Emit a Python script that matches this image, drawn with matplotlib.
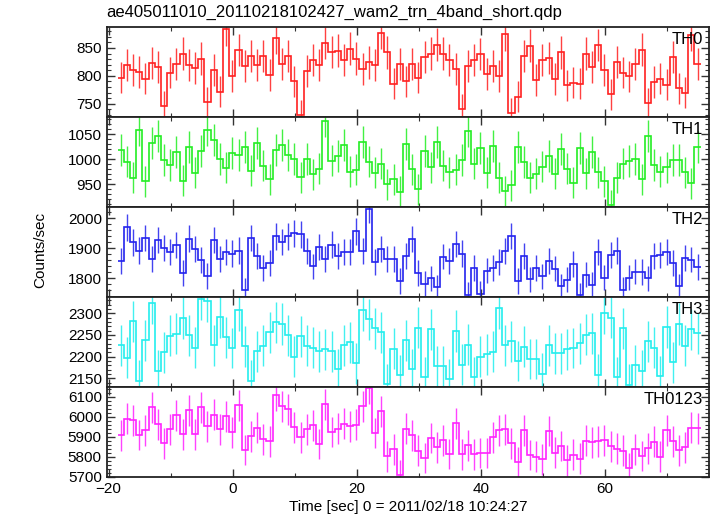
import numpy as np
import matplotlib
matplotlib.use("Agg")
import matplotlib.pyplot as plt
from matplotlib.ticker import MultipleLocator

plt.rcParams['font.family'] = ['Liberation Sans', 'DejaVu Sans']

# ---- data (1-s bins, count rates in counts/sec) ----
t_start = -18.55
bin_width = 1.0

th0 = [797, 820, 811, 807, 795, 823, 816, 746, 806, 822,
       840, 820, 814, 831, 753, 811, 772, 883, 800, 846,
       817, 836, 820, 836, 802, 868, 822, 836, 790, 730,
       809, 828, 819, 859, 843, 845, 829, 849, 831, 813,
       824, 820, 877, 842, 786, 821, 790, 822, 797, 834,
       840, 856, 840, 828, 813, 740, 818, 829, 839, 803,
       817, 800, 875, 734, 763, 835, 854, 793, 829, 832,
       794, 842, 783, 788, 786, 840, 816, 855, 810, 767,
       825, 806, 799, 822, 847, 751, 789, 795, 784, 834,
       778, 770, 874, 822]

th1 = [1018, 995, 963, 1059, 956, 1033, 1047, 998, 988, 1014,
       957, 1025, 973, 1017, 1059, 1039, 1001, 983, 1013, 1008,
       1025, 977, 1033, 987, 960, 1019, 1029, 1008, 1001, 964,
       1001, 970, 981, 1077, 997, 1006, 1029, 975, 979, 1035,
       995, 973, 991, 950, 960, 935, 1031, 980, 940, 1016,
       984, 1035, 987, 974, 979, 999, 1056, 991, 1023, 973,
       1027, 963, 936, 948, 1024, 994, 963, 971, 985, 1007,
       971, 1021, 981, 953, 1022, 972, 1015, 974, 956, 908,
       963, 991, 996, 1001, 960, 1047, 988, 975, 984, 999,
       999, 974, 952, 1024]

th2 = [1857, 1970, 1920, 1893, 1934, 1864, 1927, 1902, 1887, 1912,
       1818, 1933, 1897, 1860, 1808, 1928, 1864, 1889, 1883, 1893,
       1761, 1935, 1876, 1834, 1851, 1940, 1921, 1940, 1950, 1947,
       1892, 1840, 1905, 1864, 1913, 1874, 1888, 1887, 1957, 1891,
       2031, 1854, 1897, 1866, 1866, 1791, 1874, 1931, 1818, 1781,
       1800, 1770, 1873, 1857, 1914, 1883, 1746, 1834, 1749, 1826,
       1834, 1854, 1891, 1941, 1791, 1874, 1797, 1834, 1807, 1859,
       1833, 1774, 1796, 1848, 1744, 1813, 1778, 1888, 1803, 1877,
       1893, 1763, 1803, 1823, 1821, 1800, 1874, 1877, 1889, 1852,
       1774, 1867, 1863, 1838]

th3 = [2226, 2198, 2281, 2145, 2238, 2323, 2168, 2210, 2248, 2253,
       2289, 2249, 2221, 2333, 2328, 2226, 2292, 2245, 2220, 2308,
       2224, 2145, 2212, 2225, 2256, 2279, 2275, 2249, 2200, 2247,
       2225, 2221, 2213, 2217, 2213, 2171, 2226, 2233, 2185, 2308,
       2286, 2265, 2256, 2138, 2218, 2157, 2238, 2171, 2267, 2154,
       2263, 2178, 2178, 2148, 2259, 2182, 2228, 2154, 2200, 2206,
       2211, 2311, 2226, 2235, 2190, 2223, 2195, 2195, 2161, 2226,
       2208, 2208, 2217, 2220, 2231, 2251, 2254, 2159, 2300, 2290,
       2154, 2265, 2136, 2180, 2168, 2235, 2221, 2155, 2268, 2187,
       2275, 2225, 2263, 2254]

th0123 = [5906, 5989, 5981, 5907, 5931, 6046, 5962, 5866, 5936, 6006,
          5911, 6031, 5911, 6046, 5952, 6009, 5936, 6002, 5921, 6056,
          5832, 5901, 5944, 5886, 5876, 6106, 6052, 6036, 5947, 5896,
          5936, 5956, 5862, 6061, 5922, 5939, 5964, 5952, 5959, 6052,
          6141, 5917, 6026, 5801, 5836, 5709, 5939, 5906, 5829, 5792,
          5892, 5846, 5881, 5812, 5967, 5811, 5856, 5811, 5817, 5817,
          5896, 5932, 5936, 5866, 5774, 5931, 5807, 5799, 5786, 5927,
          5819, 5852, 5781, 5809, 5789, 5879, 5871, 5876, 5881, 5851,
          5839, 5829, 5741, 5836, 5802, 5841, 5874, 5799, 5931, 5876,
          5831, 5846, 5944, 5941]

names = ["TH0", "TH1", "TH2", "TH3", "TH0123"]
series = [th0, th1, th2, th3, th0123]
colors = ["#ff2020", "#22ee22", "#2222ee", "#22eeee", "#ff22ff"]
ylims = [(727, 888), (905, 1085), (1739, 2039), (2131, 2338), (5699, 6149)]
major = [50, 50, 100, 50, 100]
minor = [10, 10, 20, 10, 20]

W, H = 717, 516
fig = plt.figure(figsize=(W / 100, H / 100), dpi=100)

left_px, right_px = 106.7, 709
top_px = 26.7
ph = 90.0

axes = []
for i, (name, vals, col) in enumerate(zip(names, series, colors)):
    y0 = top_px + ph * (i + 1)
    ax = fig.add_axes([left_px / W, 1 - y0 / H, (right_px - left_px) / W, ph / H],
                      sharex=axes[0] if axes else None)
    axes.append(ax)
    v = np.asarray(vals, dtype=float)
    edges = t_start + bin_width * np.arange(len(v) + 1)
    centers = 0.5 * (edges[:-1] + edges[1:])
    err = np.sqrt(v * bin_width) / bin_width  # Poisson error of the rate
    ax.errorbar(centers, v, yerr=err, fmt='none', ecolor=col, elinewidth=1.0,
                alpha=0.85, capsize=0)
    ax.stairs(v, edges, color=col, linewidth=1.2, baseline=None)
    ax.set_ylim(*ylims[i])
    ax.set_xlim(-20.3, 76.8)
    ax.yaxis.set_major_locator(MultipleLocator(major[i]))
    ax.yaxis.set_minor_locator(MultipleLocator(minor[i]))
    ax.xaxis.set_major_locator(MultipleLocator(20))
    ax.xaxis.set_minor_locator(MultipleLocator(10))
    ax.tick_params(which='both', direction='in', top=True, right=True,
                   labelsize=11, colors='#333333', labelcolor='black')
    ax.tick_params(which='major', length=6, width=1.0)
    ax.tick_params(which='minor', length=3, width=0.8)
    for sp in ax.spines.values():
        sp.set_linewidth(1.3)
        sp.set_color('#222222')
    ax.text(0.99, 0.94, name, transform=ax.transAxes, ha='right', va='top',
            fontsize=12, color='black')
    if i < 4:
        ax.tick_params(labelbottom=False)

axes[-1].set_xlabel("Time [sec] 0 = 2011/02/18 10:24:27", fontsize=11, labelpad=3)
fig.text(40 / W, 1 - 250 / H, "Counts/sec", rotation=90, ha='center', va='center',
         fontsize=11)
fig.text(left_px / W, 1 - 12 / H, "ae405011010_20110218102427_wam2_trn_4band_short.qdp",
         ha='left', va='center', fontsize=12)

fig.savefig("out.png", dpi=100)
